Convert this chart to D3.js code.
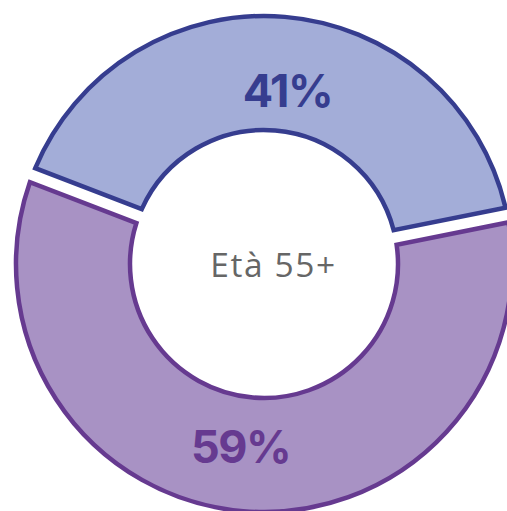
<!DOCTYPE html>
<html>
<head>
<meta charset="utf-8">
<script src="https://cdn.jsdelivr.net/npm/d3@7"></script>
<style>
  body { margin: 0; background: #fff; }
</style>
</head>
<body>
<svg></svg>
<script>
// data
var groups = ["55+ A", "55+ B"];
var shares = [41, 59];
var labels = ["41%", "59%"];
var fills = ["#a3add8", "#a892c4"];
var strokes = ["#363d8f", "#663a90"];
var centerLabel = "Età 55+";

var screen = {width: 507, height: 511};
var center = {x: 264, y: 264};
var outerR = 248, innerR = 134;

var svg = d3.select("svg")
    .attr("width", screen.width)
    .attr("height", screen.height);

var g = svg.append("g")
    .attr("transform", "translate(" + center.x + "," + center.y + ")");

var pie = d3.pie()
    .sort(null)
    .startAngle(-69 * Math.PI / 180)
    .endAngle(-69 * Math.PI / 180 + 2 * Math.PI);

var arcs = pie(shares);

var arc = d3.arc()
    .innerRadius(innerR)
    .outerRadius(outerR)
    .padAngle(0.15)
    .padRadius(100);

g.selectAll("path")
    .data(arcs)
    .enter()
    .append("path")
    .attr("d", arc)
    .attr("fill", function(d, i){ return fills[i]; })
    .attr("stroke", function(d, i){ return strokes[i]; })
    .attr("stroke-width", 4.5)
    .attr("stroke-linejoin", "miter");

// labels sit a little clockwise of the slice middle
var labelArc = d3.arc().innerRadius(180).outerRadius(180);
var shift = 2.7 * Math.PI / 180;

g.selectAll(".pct")
    .data(arcs)
    .enter()
    .append("text")
    .attr("class", "pct")
    .attr("transform", function(d){
        var c = labelArc.centroid({startAngle: d.startAngle + shift, endAngle: d.endAngle + shift});
        return "translate(" + c[0] + "," + (c[1] + 4.5) + ")";
    })
    .attr("text-anchor", "middle")
    .attr("dominant-baseline", "central")
    .attr("font-family", "Inter, 'Open Sans', sans-serif")
    .attr("font-weight", 700)
    .attr("font-size", 45)
    .attr("letter-spacing", -1.5)
    .attr("fill", function(d, i){ return strokes[i]; })
    .text(function(d, i){ return labels[i]; });

g.append("text")
    .attr("x", 9.5)
    .attr("y", 13)
    .attr("text-anchor", "middle")
    .attr("font-family", "'Open Sans', sans-serif")
    .attr("font-size", 33.5)
    .attr("letter-spacing", 1.6)
    .attr("fill", "#666666")
    .text(centerLabel);
</script>
</body>
</html>
